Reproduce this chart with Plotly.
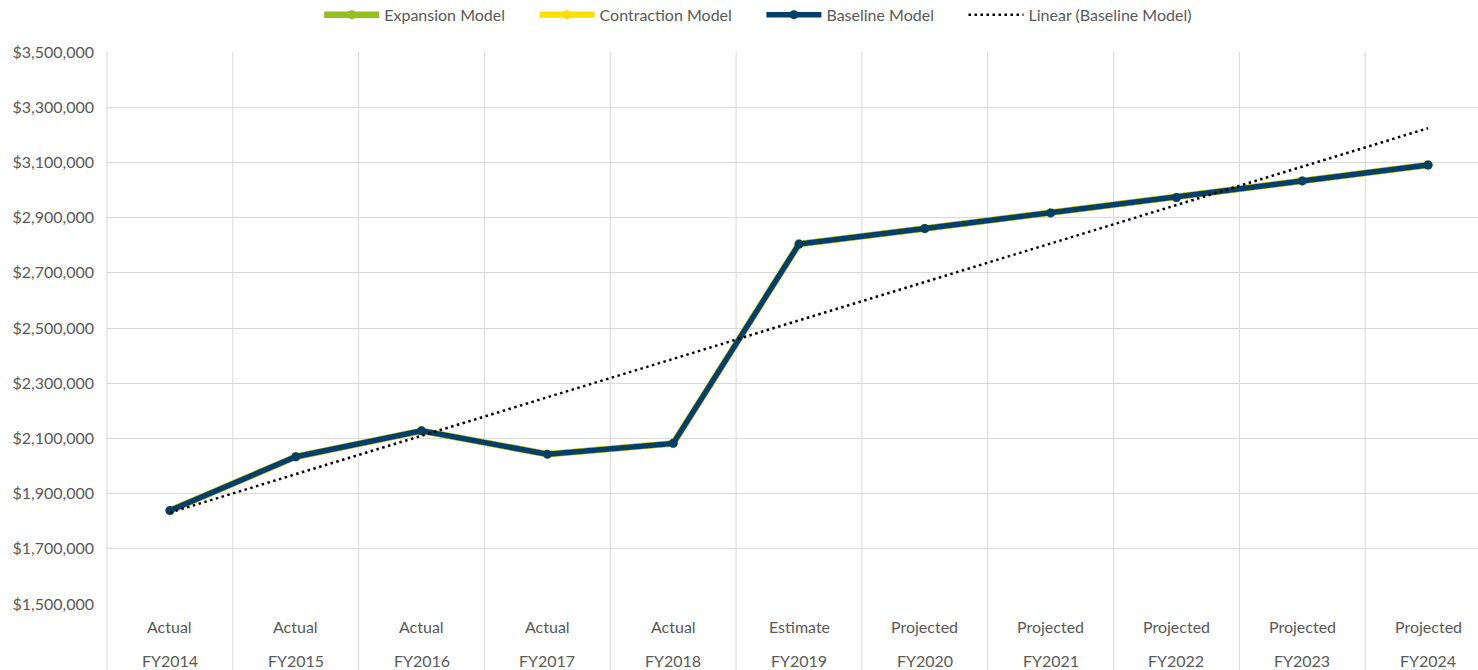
import numpy as np
import plotly.graph_objects as go

# Fiscal years and their status labels
status = ["Actual", "Actual", "Actual", "Actual", "Actual", "Estimate",
          "Projected", "Projected", "Projected", "Projected", "Projected"]
years = ["FY2014", "FY2015", "FY2016", "FY2017", "FY2018", "FY2019",
         "FY2020", "FY2021", "FY2022", "FY2023", "FY2024"]

# Revenue by model
baseline = [1838500, 2033500, 2127500, 2043000, 2082000, 2804000,
            2860600, 2917000, 2973000, 3033000, 3090600]
expansion = [1838500, 2033500, 2127500, 2043000, 2082000, 2804000,
             2860600, 2917000, 2973000, 3033000, 3090600]
contraction = [1838500, 2033500, 2127500, 2043000, 2082000, 2804000,
               2860600, 2917000, 2973000, 3033000, 3090600]

y_ticks = list(range(1500000, 3500001, 200000))

GRID = "#D9D9D9"
TEXT = "#595959"
FONT = "Lato"
FS = 16
PAD = "\u00a0" * 6  # extra room between legend entries

x = list(range(len(years)))

# Least-squares linear trend of the baseline model
slope, intercept = np.polyfit(np.arange(1, len(baseline) + 1), baseline, 1)
trend = [slope * (i + 1) + intercept for i in x]

fig = go.Figure()
fig.add_trace(go.Scatter(
    x=x, y=expansion, name="Expansion Model" + PAD, mode="lines+markers",
    line=dict(color="#92C01F", width=6.5), marker=dict(size=9, color="#92C01F")))
fig.add_trace(go.Scatter(
    x=x, y=contraction, name="Contraction Model" + PAD, mode="lines+markers",
    line=dict(color="#FFE000", width=6.2), marker=dict(size=9, color="#FFE000")))
fig.add_trace(go.Scatter(
    x=x, y=baseline, name="Baseline Model" + PAD, mode="lines+markers",
    line=dict(color="#023F6B", width=5.5), marker=dict(size=9, color="#023F6B")))
fig.add_trace(go.Scatter(
    x=x, y=trend, name="Linear (Baseline Model)", mode="lines",
    line=dict(color="#000000", width=2.5, dash="2.5px,3.5px")))

# Vertical separators between categories, running through the label band
shapes = [dict(type="line", xref="paper", yref="paper", x0=0, x1=0,
               y0=-66 / 552, y1=1, line=dict(color=GRID, width=1), layer="below")]
for i in range(1, len(years) + 1):
    shapes.append(dict(type="line", xref="x", yref="paper", x0=i - 0.5, x1=i - 0.5,
                       y0=-66 / 552, y1=1, line=dict(color=GRID, width=1), layer="below"))

# Two-row category labels
annotations = []
for i, (s, yr) in enumerate(zip(status, years)):
    annotations.append(dict(x=i, y=0, xref="x", yref="paper", text=s, showarrow=False,
                            yanchor="middle", yshift=-22,
                            font=dict(family=FONT, size=FS, color=TEXT)))
    annotations.append(dict(x=i, y=0, xref="x", yref="paper", text=yr, showarrow=False,
                            yanchor="middle", yshift=-56,
                            font=dict(family=FONT, size=FS, color=TEXT)))

fig.update_layout(
    width=1478, height=670,
    margin=dict(l=107, r=0, t=52, b=66),
    paper_bgcolor="white", plot_bgcolor="white",
    font=dict(family=FONT, size=FS, color=TEXT),
    showlegend=True,
    legend=dict(orientation="h", xref="container", yref="container",
                x=0.513, xanchor="center", y=0.978, yanchor="middle",
                font=dict(family=FONT, size=FS, color=TEXT),
                itemwidth=55, tracegroupgap=0, bgcolor="rgba(0,0,0,0)"),
    xaxis=dict(range=[-0.5, 10.5 - 13 / 125.8], showgrid=False, zeroline=False,
               showticklabels=False, ticks="", fixedrange=True),
    yaxis=dict(range=[1500000, 3500000], tickvals=y_ticks, tickformat="$,.0f",
               showgrid=True, gridcolor=GRID, gridwidth=1, zeroline=False,
               ticks="", ticklabelstandoff=12,
               tickfont=dict(family=FONT, size=FS, color=TEXT)),
    shapes=shapes,
    annotations=annotations,
)

fig.write_html("out.html")
